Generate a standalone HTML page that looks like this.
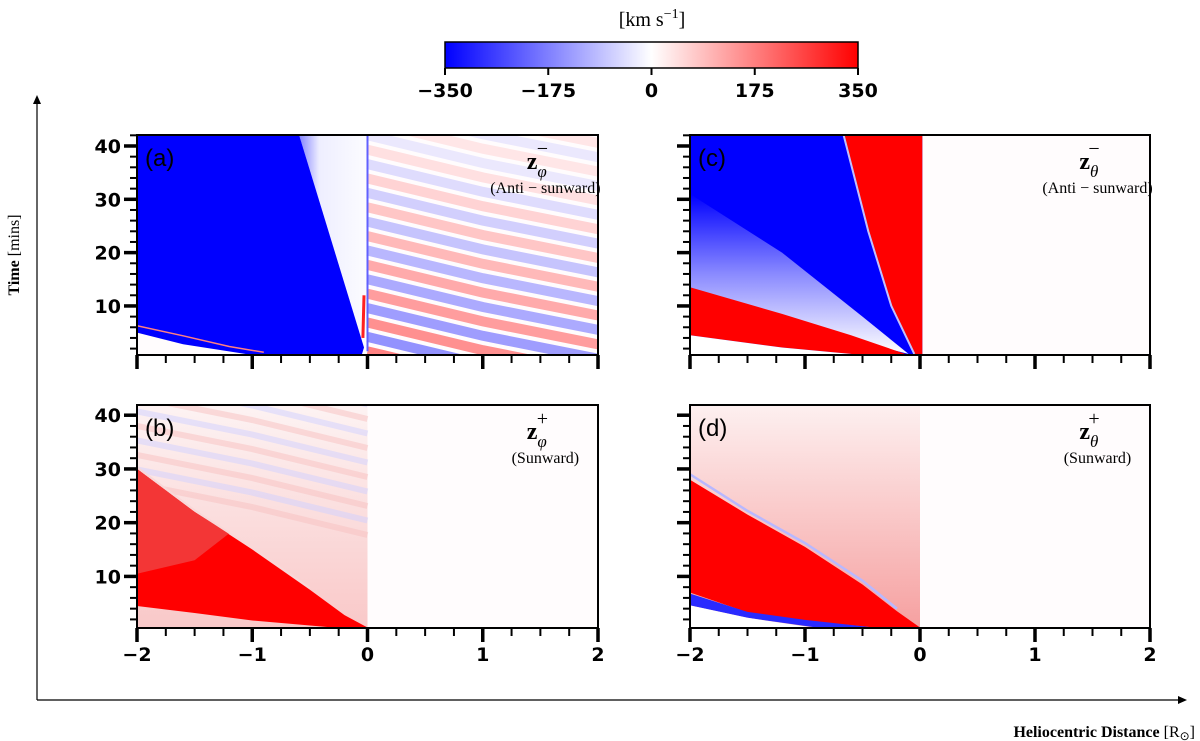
<!DOCTYPE html>
<html><head><meta charset="utf-8">
<style>
body{margin:0;background:#fff;}
svg{display:block;font-family:"Liberation Sans",sans-serif;}
.tl{font-weight:bold;font-size:19px;font-family:"DejaVu Sans",sans-serif;}
.ser{font-family:"Liberation Serif",serif;}
</style></head>
<body>
<svg id="fig" width="1200" height="741" viewBox="0 0 1200 741" xmlns="http://www.w3.org/2000/svg">
<defs>
<linearGradient id="cbar" x1="0" x2="1" y1="0" y2="0">
<stop offset="0" stop-color="#0000ff"/><stop offset="0.5" stop-color="#ffffff"/><stop offset="1" stop-color="#ff0000"/>
</linearGradient>
<linearGradient id="wedgeA" x1="0" x2="1" y1="0" y2="0">
<stop offset="0" stop-color="#8080ff"/><stop offset="0.3" stop-color="#eeeeff"/><stop offset="1" stop-color="#fcfcff"/>
</linearGradient>
<linearGradient id="fadeC" x1="0" x2="0" y1="0" y2="1">
<stop offset="0" stop-color="#0000ff"/><stop offset="0.5" stop-color="#8a8aff"/><stop offset="1" stop-color="#ffffff"/>
</linearGradient>
<linearGradient id="pinkB" x1="0" x2="0" y1="0" y2="1">
<stop offset="0" stop-color="#fdf3f3"/><stop offset="1" stop-color="#f9c8c8"/>
</linearGradient>
<linearGradient id="pinkD" x1="0" x2="0" y1="0" y2="1">
<stop offset="0" stop-color="#fdf0f0"/><stop offset="1" stop-color="#f6a0a0"/>
</linearGradient>
</defs>
<g id="root"></g>
</svg>
<script>
// ---- data ----
const cbarTicks = [-350, -175, 0, 175, 350];
const xTicks = [-2, -1, 0, 1, 2];
const yTicks = [10, 20, 30, 40];
// stripe start times (mins) at x=0 in panel (a)
const stripeStarts = [1.5,4.2,6.9,9.6,12.3,15.0,17.7,20.4,23.1,25.8,28.5,31.2,33.9,36.6,39.3,42.0,44.7,47.4,50.1];
const stripeDrop = [5.2, 9.5]; // time drop at x=1 and x=2
const aBlue = [[-2,42.5],[-0.6,42.5],[-0.03,2.2],[-0.05,0.8],[-1.0,0.8],[-1.6,2.8],[-2,5.0]];
const aWedge = [[-0.6,42.5],[0,42.5],[0,0.8],[-0.05,0.8],[-0.03,2.2]];
const aLine = [[-2,5.6],[-1.6,3.8],[-1.2,1.8],[-0.9,0.9]];
const aLineR = [[-2,6.3],[-1.6,4.4],[-1.2,2.4],[-0.9,1.3]];
const bPink = [[-2,42],[0,42],[0,0.4],[-2,0.4]];
const bRed = [[-2,30],[-1.5,22],[-1.0,15],[-0.5,7.5],[-0.2,2.8],[0,0.5],[-0.3,0.5],[-1.0,1.8],[-1.5,3.2],[-2,4.5]];
const bRedLight = [[-2,30],[-1.5,22],[-1.2,18],[-1.5,13],[-2,10.5]];
const cRed = [[-0.67,42.5],[0.02,42.5],[0.02,0.8],[-0.05,0.8],[-0.25,10],[-0.45,24]];
const cFade = [[-2,31],[-1.2,20],[-0.5,8],[-0.1,1],[-2,11]];
const cRedL = [[-2,13.5],[-1.2,8.5],[-0.6,4.5],[-0.1,0.8],[-0.5,0.8],[-1.2,2.2],[-2,4.5]];
const dRed = [[-2,28],[-1.5,21.5],[-1.0,15.5],[-0.5,8.5],[-0.2,3.5],[0,0.5],[-0.4,0.5],[-1.0,1.8],[-1.5,3.3],[-2,7]];
const dBlue = [[-2,6.8],[-1.5,3.4],[-1.0,1.9],[-0.4,0.5],[-0.9,0.5],[-1.5,2.3],[-2,4.6]];
const dEdge = [[-2,29],[-1.5,22.2],[-1.0,16.2],[-0.5,9.2],[-0.2,4]];

const panels = {
 a:{x0:137,x1:598,y0:135,y1:355,tmin:0.8,tmax:42.06,label:'(a)',sym:'φ',sup:'−',sub:'(Anti − sunward)',xl:false,yl:true},
 b:{x0:137,x1:598,y0:405,y1:628,tmin:0.4,tmax:41.9,label:'(b)',sym:'φ',sup:'+',sub:'(Sunward)',xl:true,yl:true},
 c:{x0:690,x1:1150,y0:135,y1:355,tmin:0.8,tmax:42.06,label:'(c)',sym:'θ',sup:'−',sub:'(Anti − sunward)',xl:false,yl:false},
 d:{x0:690,x1:1150,y0:405,y1:628,tmin:0.4,tmax:41.9,label:'(d)',sym:'θ',sup:'+',sub:'(Sunward)',xl:true,yl:false}
};
const NS='http://www.w3.org/2000/svg';
const root=document.getElementById('root');
function mk(tag,attrs,parent){const e=document.createElementNS(NS,tag);for(const k in attrs)e.setAttribute(k,attrs[k]);(parent||root).appendChild(e);return e;}
function X(p,x){return p.x0+(x+2)/4*(p.x1-p.x0);}
function Y(p,t){return p.y1-(t-p.tmin)/(p.tmax-p.tmin)*(p.y1-p.y0);}
function pts(p,arr){return arr.map(d=>X(p,d[0]).toFixed(1)+','+Y(p,d[1]).toFixed(1)).join(' ');}
function poly(p,g,arr,fill,name){const e=mk('polygon',{points:pts(p,arr),fill:fill},g);

return e;}
function line(p,g,arr,stroke,w,name){const e=mk('polyline',{points:pts(p,arr),fill:'none',stroke:stroke,'stroke-width':w},g);

return e;}

const cb=mk('g',{});


const cbx0=445,cbx1=858;
mk('rect',{x:cbx0,y:42,width:cbx1-cbx0,height:26,fill:'url(#cbar)',stroke:'#000','stroke-width':1.5},cb);
const cbt=mk('text',{x:652,y:26,'text-anchor':'middle','font-size':20,class:'ser'},cb);


cbt.innerHTML='[km s<tspan dy="-8" font-size="14">−1</tspan><tspan dy="8">]</tspan>';
cbarTicks.forEach(v=>{const x=cbx0+(v+350)/700*(cbx1-cbx0);
 mk('line',{x1:x,y1:68,x2:x,y2:75,stroke:'#000','stroke-width':2},cb);
 const t=mk('text',{x:x,y:97,'text-anchor':'middle',class:'tl'},cb);
 
 
 t.textContent=(v<0?'−'+(-v):v);});

const ax=mk('g',{});


mk('line',{x1:37,y1:700,x2:37,y2:100,stroke:'#000','stroke-width':1.2},ax);
mk('polygon',{points:'37,95 33,104 41,104',fill:'#000'},ax);
mk('line',{x1:37,y1:700,x2:1180,y2:700,stroke:'#000','stroke-width':1.2},ax);
mk('polygon',{points:'1187,700 1178,696 1178,704',fill:'#000'},ax);
const yt=mk('text',{x:0,y:0,transform:'translate(19,255) rotate(-90)','text-anchor':'middle','font-size':16,class:'ser'},ax);


yt.innerHTML='<tspan font-weight="bold">Time</tspan> [mins]';
const xt=mk('text',{x:1195,y:737,'text-anchor':'end','font-size':16,class:'ser'},ax);


xt.innerHTML='<tspan font-weight="bold">Heliocentric Distance</tspan> [R<tspan font-size="12" dy="3">⊙</tspan><tspan dy="-3">]</tspan>';

for(const key in panels){
 const p=panels[key];
 const g=mk('g',{});
 
 
 mk('clipPath',{id:'clip'+key},g);
 mk('rect',{x:p.x0,y:p.y0,width:p.x1-p.x0,height:p.y1-p.y0},g.lastChild);
 const h=mk('g',{'clip-path':'url(#clip'+key+')'},g);
 
 
 mk('rect',{x:p.x0,y:p.y0,width:p.x1-p.x0,height:p.y1-p.y0,fill:'#fffcfd'},h);
 if(key==='a'){
  poly(p,h,aWedge,'url(#wedgeA)','white-wedge');
  stripeStarts.forEach((t0,i)=>{
   const op=Math.max(0.1,0.6-t0*0.012);
   const e=line(p,h,[[0,t0],[1,t0-stripeDrop[0]],[2,t0-stripeDrop[1]]],i%2?'#3a3aff':'#ff2a2a',10,'stripe');
   e.setAttribute('opacity',op);
  });
  poly(p,h,aBlue,'#0000ff','blue-region');
  line(p,h,aLine,'#0000ff',2,'blue-streak');
  line(p,h,aLineR,'#ff8080',1.5,'red-streak');
  line(p,h,[[0,42.5],[0,1.5]],'#6060ff',2,'boundary-line');
  line(p,h,[[-0.03,12],[-0.04,4]],'#ff2020',3,'red-boundary');
 }
 if(key==='b'){
  poly(p,h,bPink,'url(#pinkB)','pink-region');
  for(let i=0;i<12;i++){const t0=stripeStarts[i+6];
   const e=line(p,h,[[0,t0],[-1,t0+stripeDrop[0]],[-2,t0+stripeDrop[1]]],i%2?'#d0d0ff':'#f8c0c0',6,'faint-stripe');e.setAttribute('opacity',0.5);}
  poly(p,h,bRed,'#ff0000','red-region');
  poly(p,h,bRedLight,'#f33636','red-light-region');
  line(p,h,[[-2,30.3],[-1.5,22.3],[-1.0,15.3],[-0.5,7.8]],'#f8d8d8',2,'edge-line');
 }
 if(key==='c'){
  mk('rect',{x:p.x0,y:p.y0,width:X(p,0.02)-p.x0,height:p.y1-p.y0,fill:'#0000ff'},h);
  poly(p,h,cFade,'url(#fadeC)','faded-region');
  poly(p,h,cRedL,'#ff0000','red-lower-region');
  poly(p,h,cRed,'#ff0000','red-band');
  line(p,h,[[-0.67,42.5],[-0.45,24],[-0.25,10],[-0.05,1]],'#c0c0ff',2,'band-edge');
  poly(p,h,[[-2,4.5],[-1.2,2.2],[-0.5,0.8],[-2,0.8]],'#ffffff','white-corner');
 }
 if(key==='d'){
  poly(p,h,[[-2,42],[0,42],[0,0.4],[-2,0.4]],'url(#pinkD)','pink-region');
  poly(p,h,dRed,'#ff0000','red-region');
  line(p,h,dEdge,'#b8b8ff',2.5,'blue-edge');
  poly(p,h,dBlue,'#2a2aff','blue-band');
  poly(p,h,[[-2,4.6],[-1.5,2.3],[-0.9,0.4],[-2,0.4]],'#ffffff','white-corner');
 }
 mk('rect',{x:p.x0,y:p.y0,width:p.x1-p.x0,height:p.y1-p.y0,fill:'none',stroke:'#000','stroke-width':2},g);
 for(let t=2;t<=p.tmax;t+=2){const y=Y(p,t);const maj=t%10===0;
  mk('line',{x1:p.x0,y1:y,x2:p.x0-(maj?13:7),y2:y,stroke:'#000','stroke-width':maj?3.5:2},g);
  if(maj&&p.yl){const tx=mk('text',{x:p.x0-16,y:y+7,'text-anchor':'end',class:'tl'},g);
   
   
   tx.textContent=t;}}
 for(let i=0;i<=16;i++){const xv=-2+i*0.25;const x=X(p,xv);const maj=i%4===0;
  mk('line',{x1:x,y1:p.y1,x2:x,y2:p.y1+(maj?14:8),stroke:'#000','stroke-width':maj?3.5:2},g);}
 if(p.xl) xTicks.forEach(v=>{const tx=mk('text',{x:X(p,v),y:p.y1+33,'text-anchor':'middle',class:'tl'},g);
  
  
  tx.textContent=v<0?'−'+(-v):v;});
 const lb=mk('text',{x:p.x0+8,y:p.y0+31,'font-size':24},g);
 
 
 lb.textContent=p.label;
 const cx=X(p,1.5)+5;
 const sy=mk('text',{x:cx-8,y:p.y0+34,'text-anchor':'middle','font-size':24,'font-weight':'bold',class:'ser'},g);
 
 
 sy.innerHTML='z<tspan font-size="17" font-weight="normal" font-style="italic" dy="8">'+p.sym+'</tspan><tspan font-size="20" font-weight="normal" dx="-10" dy="-22">'+p.sup+'</tspan>';
 const sb=mk('text',{x:cx,y:p.y0+58,'text-anchor':'middle','font-size':16,class:'ser'},g);
 
 
 sb.textContent=p.sub;
}
</script>
</body></html>
